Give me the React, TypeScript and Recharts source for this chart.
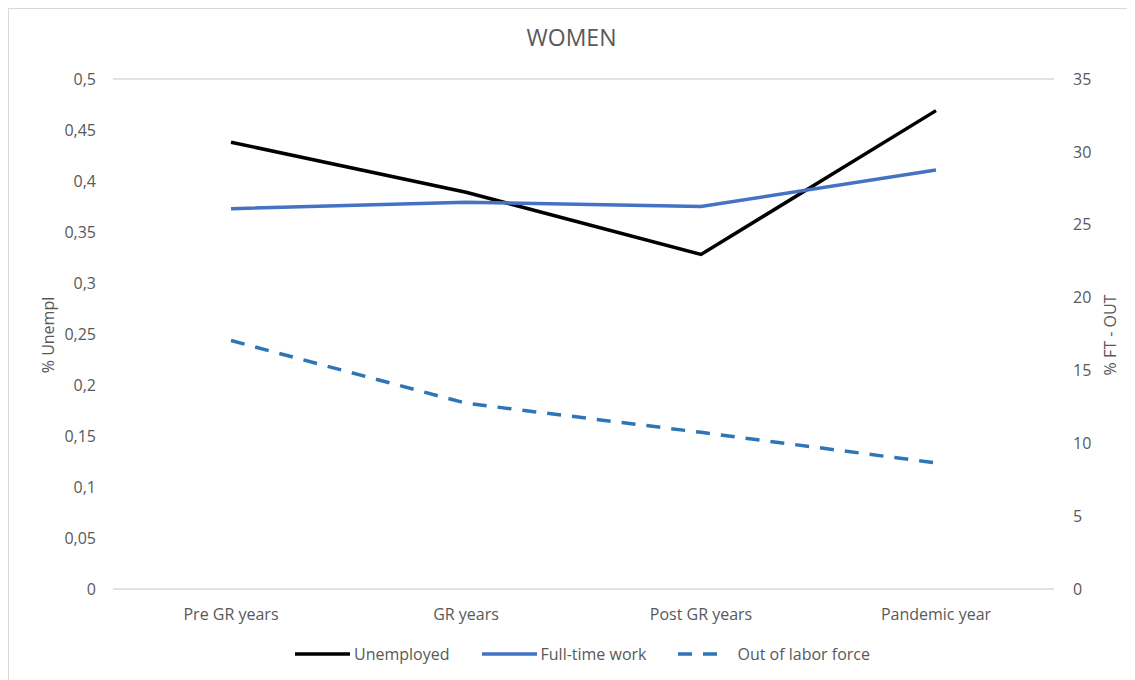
import React from 'react';
import { LineChart, Line, XAxis, YAxis, CartesianGrid, Legend } from 'recharts';

const periods = ['Pre GR years', 'GR years', 'Post GR years', 'Pandemic year'];
const unemployed = [0.438, 0.389, 0.328, 0.469];
const fullTime = [26.1, 26.55, 26.25, 28.75];
const outOfLabor = [17.05, 12.75, 10.75, 8.65];

const unemplTicks = [0, 0.05, 0.1, 0.15, 0.2, 0.25, 0.3, 0.35, 0.4, 0.45, 0.5];
const shareTicks = [0, 5, 10, 15, 20, 25, 30, 35];

const seriesNames = ['Unemployed', 'Full-time work', 'Out of labor force'];
const seriesColors = ['#000000', '#4472C4', '#2E75B6'];
const seriesDash = [undefined, undefined, '14 11'];

const FONT = "'Open Sans', sans-serif";
const TEXT = '#595959';

const data = periods.map((p, i) => ({
  period: p,
  unemployed: unemployed[i],
  fullTime: fullTime[i],
  outOfLabor: outOfLabor[i],
}));

const commaDecimal = (v: number) => String(v).replace('.', ',');

// own coordinate props, so recharts' label x/y don't override them
const AxisTitle = ({ cx, cy, title }: { cx: number; cy: number; title: string }) => (
  <text
    x={cx}
    y={cy}
    transform={`rotate(-90, ${cx}, ${cy})`}
    textAnchor="middle"
    dominantBaseline="central"
    fill={TEXT}
    fontSize={16}
    fontFamily={FONT}
  >
    {title}
  </text>
);

// legend in series order (recharts would sort the payload by name)
const LegendRow = () => (
  <div style={{ display: 'flex', justifyContent: 'center', paddingLeft: 22, height: 20, alignItems: 'center' }}>
    {seriesNames.map((name, i) => (
      <div key={name} style={{ display: 'flex', alignItems: 'center', marginRight: i < seriesNames.length - 1 ? 32 : 0 }}>
        <svg width={55} height={10} style={{ marginRight: 4 }}>
          <line
            x1={0}
            y1={5}
            x2={seriesDash[i] ? 44 : 55}
            y2={5}
            stroke={seriesColors[i]}
            strokeWidth={3.5}
            strokeDasharray={seriesDash[i]}
          />
        </svg>
        <span style={{ color: TEXT, fontSize: 16, fontFamily: FONT }}>{name}</span>
      </div>
    ))}
  </div>
);

export default function App() {
  return (
    <div
      style={{
        position: 'relative',
        width: 1127,
        height: 680,
        boxSizing: 'border-box',
        border: '1px solid #d9d9d9',
        background: '#fff',
      }}
    >
      <div
        style={{
          position: 'absolute',
          top: 12,
          left: 0,
          width: '100%',
          textAlign: 'center',
          fontFamily: FONT,
          fontSize: 23,
          color: TEXT,
        }}
      >
        WOMEN
      </div>
      <LineChart width={1125} height={672} data={data} margin={{ top: 70, right: 0, bottom: 17, left: 0 }}>
        <CartesianGrid vertical={false} stroke="#d9d9d9" strokeWidth={1.3} />
        <XAxis
          dataKey="period"
          axisLine={false}
          tickLine={false}
          height={55}
          tickMargin={14}
          padding={{ left: 118, right: 118 }}
          tick={{ fill: TEXT, fontSize: 16, fontFamily: FONT }}
        />
        <YAxis
          yAxisId="left"
          orientation="left"
          width={104}
          domain={[0, 0.5]}
          ticks={unemplTicks}
          tickFormatter={commaDecimal}
          axisLine={false}
          tickLine={false}
          tickMargin={11}
          tick={{ fill: TEXT, fontSize: 16, fontFamily: FONT }}
          label={<AxisTitle cx={39} cy={326} title="% Unempl" />}
        />
        <YAxis
          yAxisId="right"
          orientation="right"
          width={80}
          domain={[0, 35]}
          ticks={shareTicks}
          axisLine={false}
          tickLine={false}
          tickMargin={13}
          tick={{ fill: TEXT, fontSize: 16, fontFamily: FONT, textAnchor: 'start' }}
          label={<AxisTitle cx={1101} cy={326} title="% FT - OUT" />}
        />
        <Legend verticalAlign="bottom" content={<LegendRow />} />
        <Line
          yAxisId="left"
          dataKey="unemployed"
          name={seriesNames[0]}
          stroke={seriesColors[0]}
          strokeWidth={3.5}
          dot={false}
          isAnimationActive={false}
        />
        <Line
          yAxisId="right"
          dataKey="fullTime"
          name={seriesNames[1]}
          stroke={seriesColors[1]}
          strokeWidth={3.5}
          dot={false}
          isAnimationActive={false}
        />
        <Line
          yAxisId="right"
          dataKey="outOfLabor"
          name={seriesNames[2]}
          stroke={seriesColors[2]}
          strokeWidth={3.5}
          strokeDasharray={seriesDash[2]}
          dot={false}
          isAnimationActive={false}
        />
      </LineChart>
    </div>
  );
}
